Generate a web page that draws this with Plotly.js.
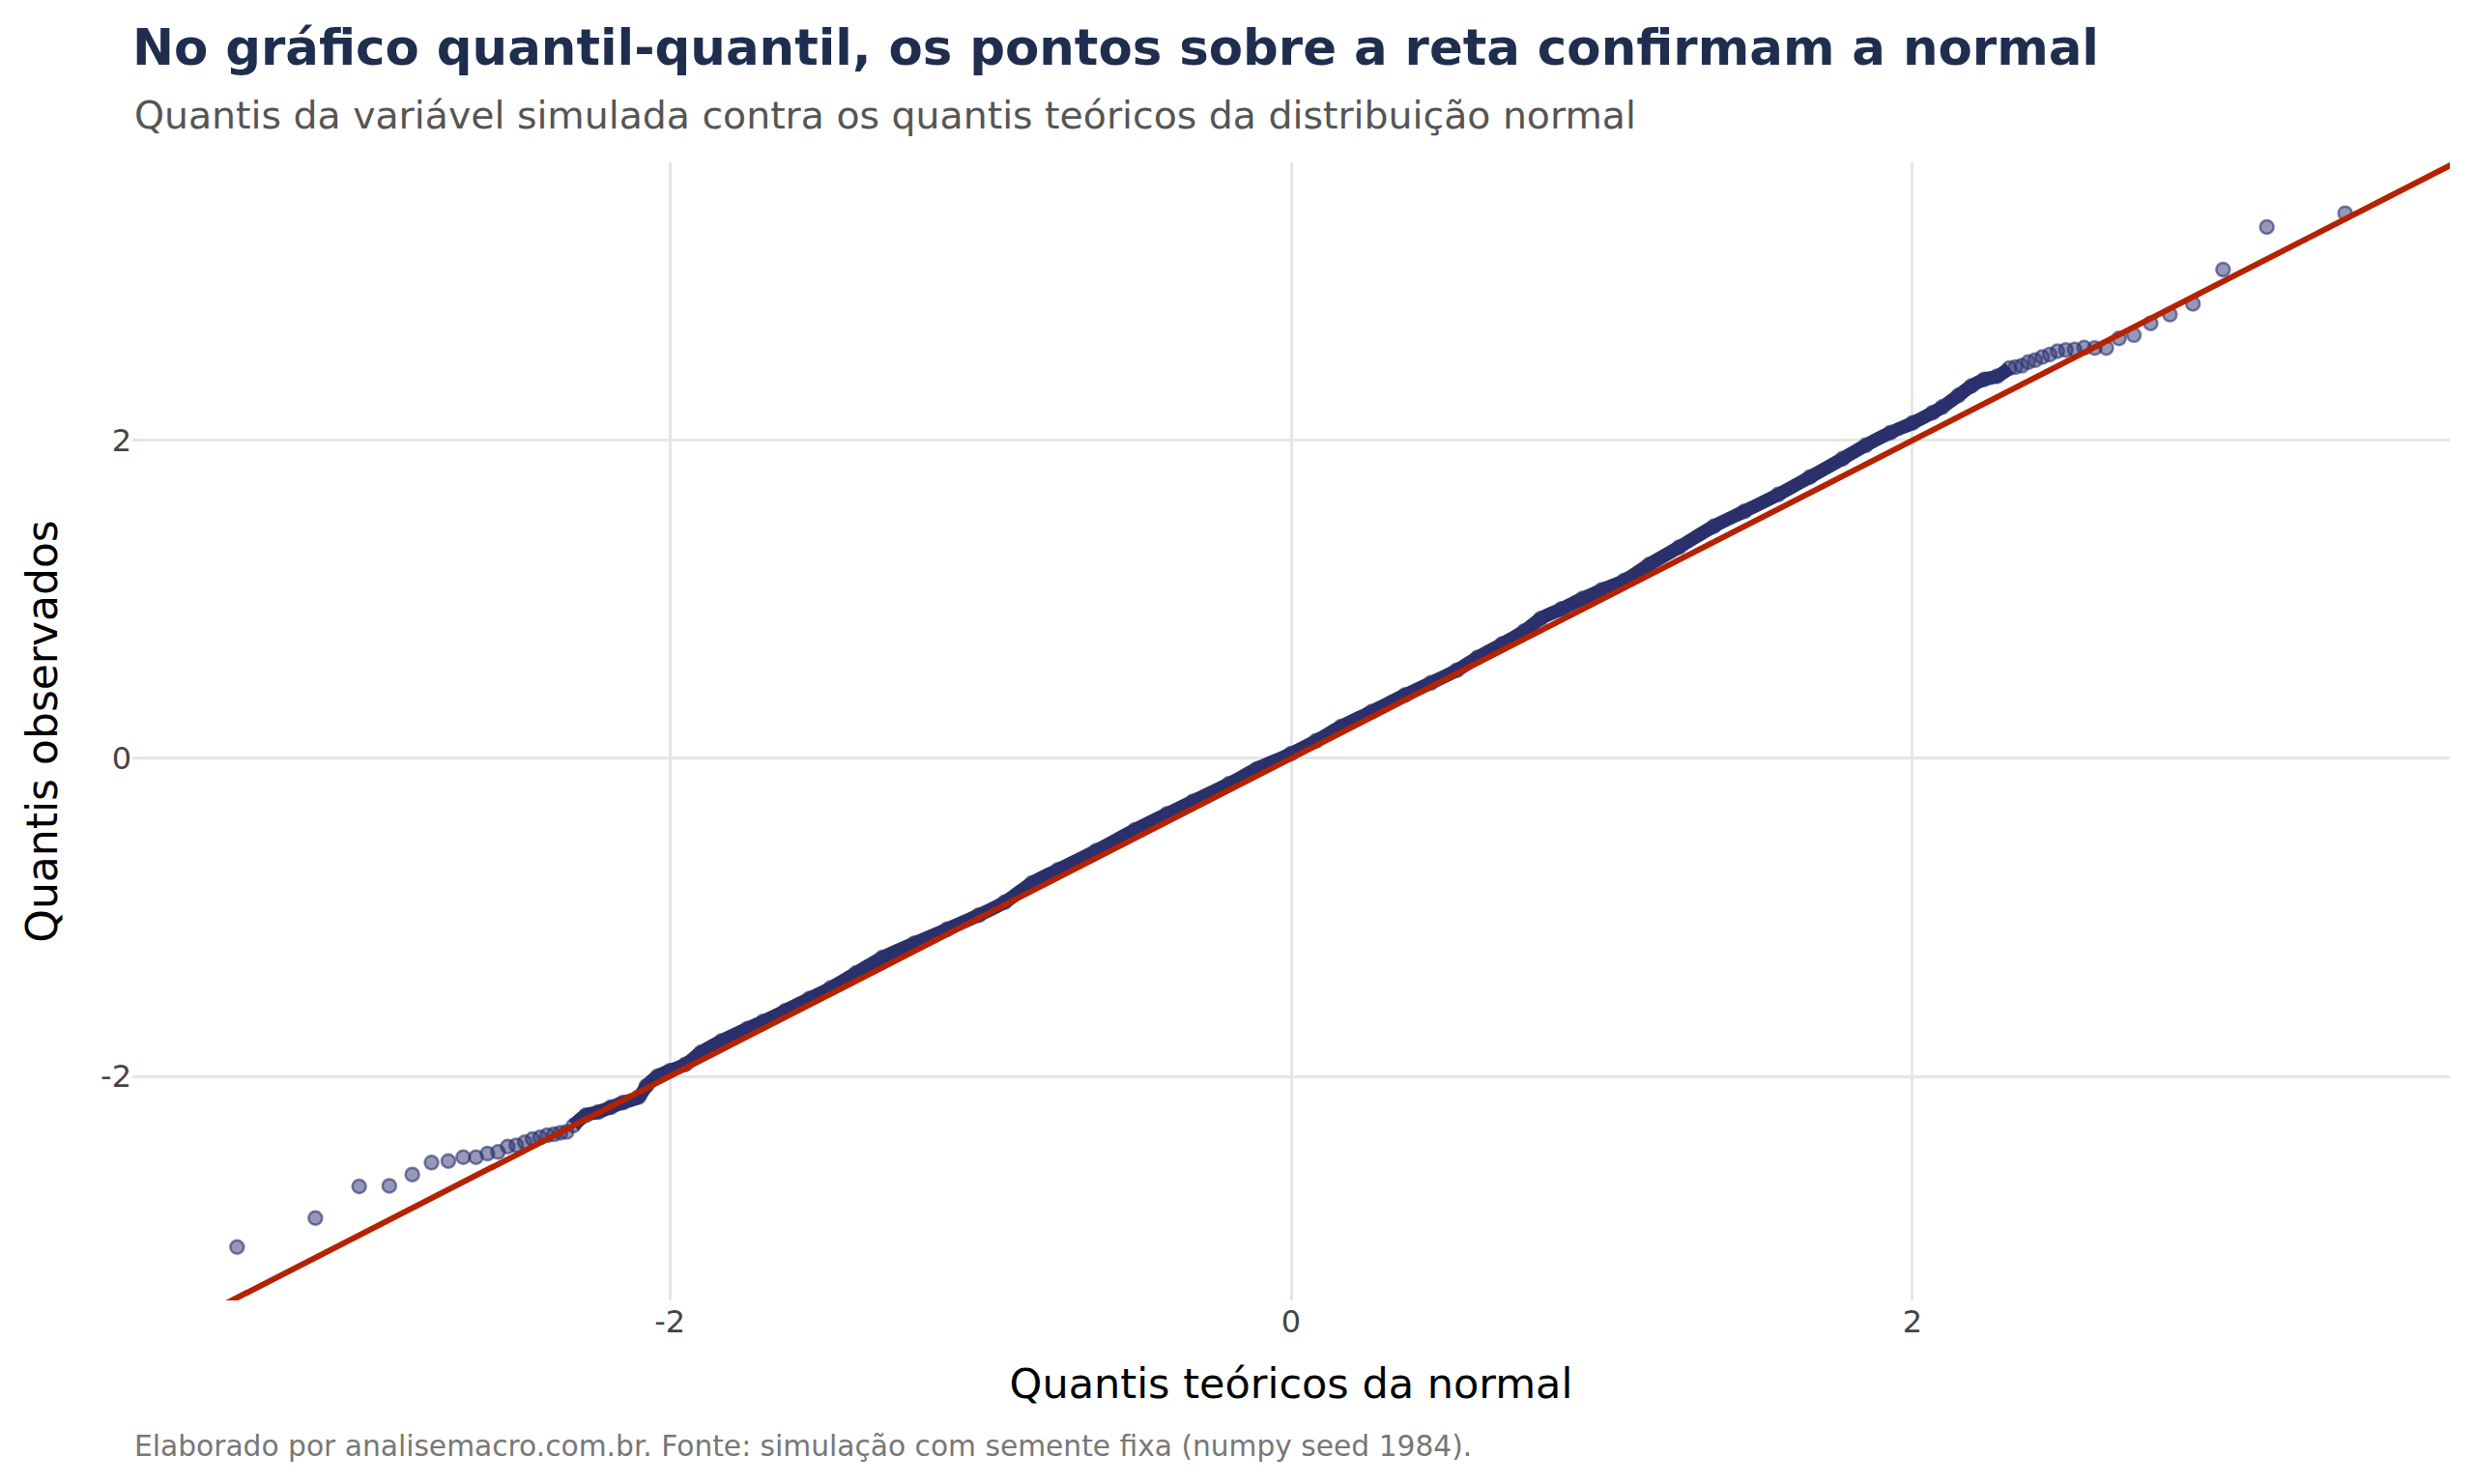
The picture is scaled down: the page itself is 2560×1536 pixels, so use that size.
<!DOCTYPE html>
<html>
<head>
<meta charset="utf-8">
<script src="https://cdn.plot.ly/plotly-3.0.1.min.js"></script>
<style>
  html, body { margin: 0; padding: 0; background: #ffffff; }
  #graph { width: 2560px; height: 1536px; }
</style>
</head>
<body>
<div id="graph"></div>
<script>
// cauda esquerda: pontos isolados (quantil teórico, quantil observado)
var tailLeftX = [-3.393, -3.141, -3.000, -2.903, -2.829, -2.767, -2.713, -2.665, -2.624, -2.587,
                 -2.553, -2.522, -2.494, -2.467, -2.442, -2.418, -2.395, -2.373, -2.352, -2.332];
var tailLeftY = [-3.074, -2.892, -2.693, -2.689, -2.618, -2.543, -2.533, -2.509, -2.509, -2.486,
                 -2.476, -2.442, -2.434, -2.415, -2.395, -2.385, -2.371, -2.365, -2.355, -2.350];

// faixa central densa
var coreX = [-2.31, -2.27, -2.23, -2.19, -2.15, -2.10, -2.075, -2.04, -2.00, -1.95,
             -1.90, -1.834, -1.75, -1.70, -1.627, -1.55, -1.482, -1.40, -1.316, -1.212,
             -1.108, -1.005, -0.922, -0.835, -0.75, -0.627, -0.503, -0.40, -0.316, -0.20,
             -0.109, 0.0, 0.08, 0.161, 0.26, 0.368, 0.45, 0.534, 0.60, 0.679,
             0.75, 0.804, 0.87, 0.938, 1.00, 1.073, 1.153, 1.25, 1.361, 1.46,
             1.568, 1.67, 1.775, 1.85, 1.93, 2.00, 2.065, 2.096, 2.148, 2.19,
             2.231, 2.273, 2.312];
var coreY = [-2.31, -2.245, -2.225, -2.195, -2.165, -2.13, -2.06, -2.00, -1.965, -1.925,
             -1.85, -1.778, -1.70, -1.655, -1.586, -1.51, -1.444, -1.35, -1.253, -1.162,
             -1.075, -0.986, -0.905, -0.785, -0.70, -0.58, -0.45, -0.35, -0.27, -0.16,
             -0.065, 0.03, 0.11, 0.20, 0.295, 0.40, 0.475, 0.555, 0.635, 0.72,
             0.80, 0.88, 0.94, 1.005, 1.06, 1.12, 1.22, 1.33, 1.46, 1.555,
             1.66, 1.77, 1.885, 1.97, 2.05, 2.11, 2.175, 2.21, 2.283, 2.343,
             2.384, 2.404, 2.455];

// cauda direita
var tailRightX = [2.332, 2.352, 2.373, 2.395, 2.418, 2.442, 2.467, 2.494, 2.522, 2.553,
                  2.587, 2.624, 2.665, 2.713, 2.767, 2.829, 2.903, 3.000, 3.141, 3.393];
var tailRightY = [2.462, 2.470, 2.493, 2.505, 2.525, 2.541, 2.562, 2.570, 2.572, 2.584,
                  2.582, 2.582, 2.642, 2.663, 2.737, 2.792, 2.860, 3.075, 3.343, 3.430];

// reta de referência
var lineSlope = 1.0;
var lineIntercept = 0.0;
var lineX = [-3.8, 3.8];

var xTicks = [-2, 0, 2];
var yTicks = [-2, 0, 2];

var navy = 'rgba(43,49,112,0.5)';
var font = 'DejaVu Sans';

var allX = tailLeftX.concat(coreX, tailRightX);
var allY = tailLeftY.concat(coreY, tailRightY);

var band = {
    x: coreX,
    y: coreY,
    mode: 'lines',
    type: 'scatter',
    line: {color: 'rgb(42,48,106)', width: 14, shape: 'spline'},
    hoverinfo: 'skip'
};

var points = {
    x: allX,
    y: allY,
    mode: 'markers',
    type: 'scatter',
    marker: {size: 14, color: navy, line: {color: 'rgba(43,49,112,0.6)', width: 2.5}}
};

var refLine = {
    x: lineX,
    y: lineX.map(function(v) { return lineIntercept + lineSlope * v; }),
    mode: 'lines',
    type: 'scatter',
    line: {color: '#b52200', width: 6}
};

var layout = {
    width: 2560,
    height: 1536,
    showlegend: false,
    paper_bgcolor: '#ffffff',
    plot_bgcolor: '#ffffff',
    margin: {l: 137, r: 25, t: 168, b: 190},
    font: {family: font},
    title: {
        text: '<b>No gráfico quantil-quantil, os pontos sobre a reta confirmam a normal</b>',
        font: {family: font, size: 51.4, color: '#1f2d4f'},
        x: 137 / 2560, xanchor: 'left', xref: 'container',
        y: 1 - 49 / 1536, yanchor: 'middle', yref: 'container'
    },
    xaxis: {
        range: [-3.73, 3.73],
        tickvals: xTicks,
        ticktext: xTicks.map(String),
        showgrid: true, gridcolor: '#e6e6e6', gridwidth: 3,
        zeroline: false, showline: false, ticks: '',
        tickfont: {size: 32, color: '#444444'},
        title: {text: 'Quantis teóricos da normal', font: {size: 43, color: '#000000'}, standoff: 30}
    },
    yaxis: {
        range: [-3.41, 3.75],
        tickvals: yTicks,
        ticktext: yTicks.map(String),
        showgrid: true, gridcolor: '#e6e6e6', gridwidth: 3,
        zeroline: false, showline: false, ticks: '',
        tickfont: {size: 32, color: '#444444'},
        title: {text: 'Quantis observados', font: {size: 44, color: '#000000'}, standoff: 30}
    },
    annotations: [
        {
            text: 'Quantis da variável simulada contra os quantis teóricos da distribuição normal',
            xref: 'paper', yref: 'paper', x: 0, y: (1346 - 119) / 1178,
            xanchor: 'left', yanchor: 'middle', showarrow: false,
            font: {family: font, size: 39.4, color: '#555555'}
        },
        {
            text: 'Elaborado por analisemacro.com.br. Fonte: simulação com semente fixa (numpy seed 1984).',
            xref: 'paper', yref: 'paper', x: 0, y: (1346 - 1496) / 1178,
            xanchor: 'left', yanchor: 'middle', showarrow: false,
            font: {family: font, size: 29.7, color: '#777777'}
        }
    ]
};

Plotly.newPlot('graph', [band, points, refLine], layout, {displayModeBar: false, staticPlot: true});
</script>
</body>
</html>
